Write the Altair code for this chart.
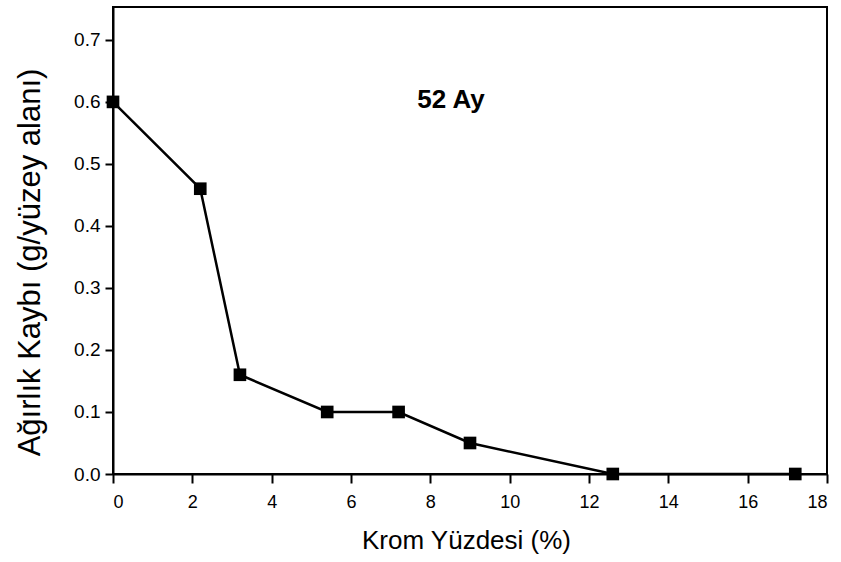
import altair as alt
import pandas as pd

krom = [0.0, 2.2, 3.2, 5.4, 7.2, 9.0, 12.6, 17.2]
kayip = [0.60, 0.46, 0.16, 0.10, 0.10, 0.05, 0.0, 0.0]
x_ticks = [0, 2, 4, 6, 8, 10, 12, 14, 16, 18]
y_ticks = [0.0, 0.1, 0.2, 0.3, 0.4, 0.5, 0.6, 0.7]

df = pd.DataFrame({"krom": krom, "kayip": kayip})

FONT = "Liberation Sans"

x_enc = alt.X(
    "krom:Q",
    scale=alt.Scale(domain=[0, 18], nice=False, zero=False),
    axis=alt.Axis(
        title="Krom Yüzdesi (%)",
        values=x_ticks,
        format="d",
        grid=False,
        domainColor="black",
        domainWidth=2,
        tickColor="black",
        tickWidth=2,
        tickSize=9,
        labelFont=FONT,
        labelFontSize=18,
        labelColor="black",
        labelPadding=10,
        titleFont=FONT,
        titleFontSize=26,
        titleFontWeight="normal",
        titleColor="black",
        titlePadding=16,
        titleX=353,
    ),
)
y_enc = alt.Y(
    "kayip:Q",
    scale=alt.Scale(domain=[0, 0.753], nice=False, zero=False),
    axis=alt.Axis(
        title="Ağırlık Kaybı (g/yüzey alanı)",
        values=y_ticks,
        format=".1f",
        grid=False,
        domainColor="black",
        domainWidth=2,
        tickColor="black",
        tickWidth=2,
        tickSize=8,
        labelFont=FONT,
        labelFontSize=19,
        labelColor="black",
        labelPadding=5,
        titleFont=FONT,
        titleFontSize=31,
        titleFontWeight="normal",
        titleColor="black",
        titlePadding=27,
        titleY=255,
    ),
)

line = alt.Chart(df).mark_line(color="black", strokeWidth=2.5).encode(x=x_enc, y=y_enc)
points = alt.Chart(df).mark_point(
    shape="square", filled=True, color="black", size=160, opacity=1
).encode(x="krom:Q", y="kayip:Q")

label = alt.Chart(pd.DataFrame({"t": ["52 Ay"]})).mark_text(
    font=FONT, fontSize=26, fontWeight="bold", color="black", align="center", baseline="middle"
).encode(text="t:N", x=alt.value(338), y=alt.value(93))

chart = (
    alt.layer(line, points, label)
    .properties(
        width=714,
        height=467,
        autosize=alt.AutoSizeParams(type="none"),
        padding={"left": 113, "top": 7, "right": 14, "bottom": 88},
        background="white",
    )
    .configure_view(stroke="black", strokeWidth=2)
)

chart.save("out.html", embed_options={"renderer": "svg", "actions": False})
